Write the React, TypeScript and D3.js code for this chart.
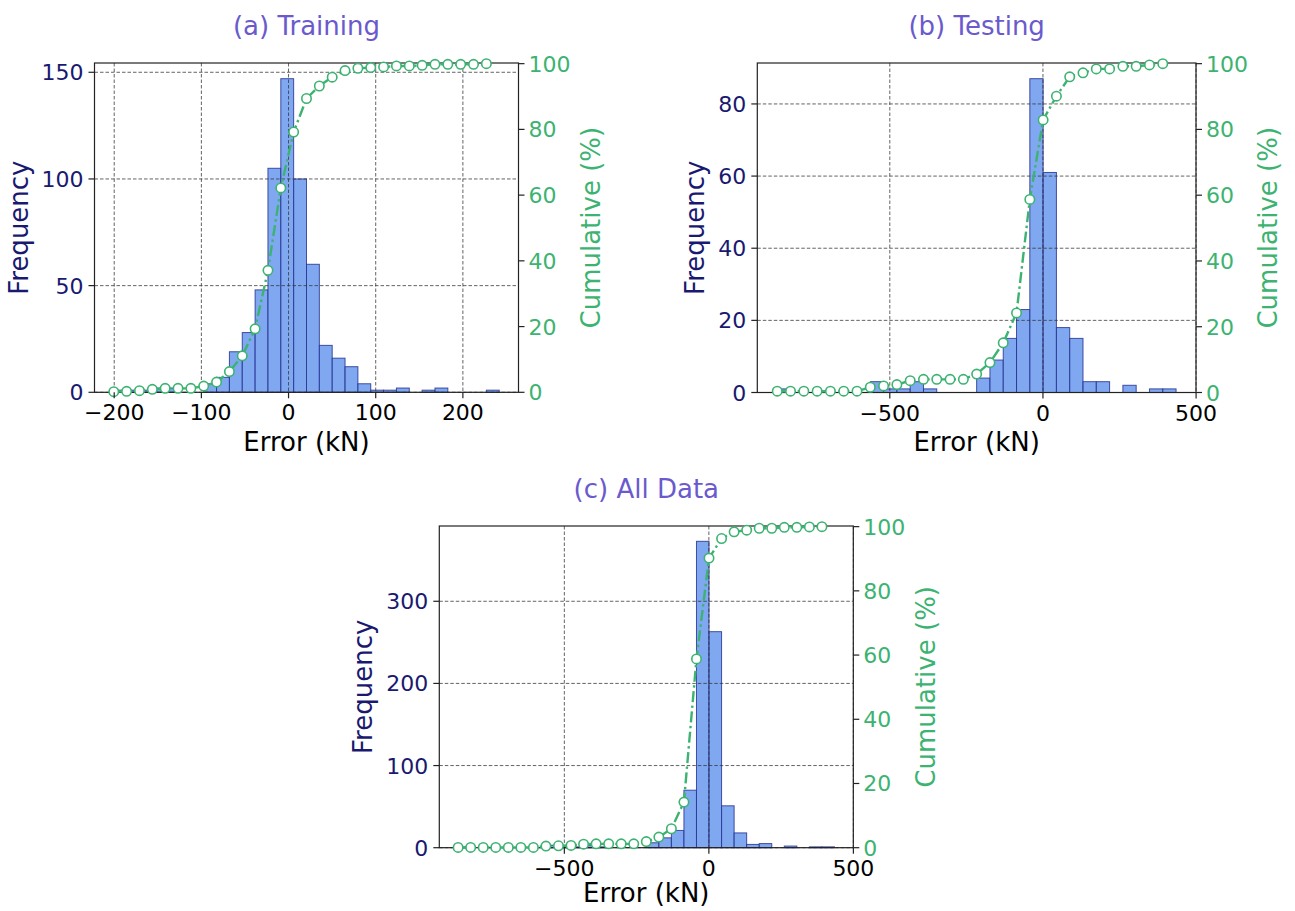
import React from "react";
import * as d3 from "d3";

// ---------- data ----------
const trainCounts = [1, 1, 1, 2, 2, 0, 0, 4, 7, 19, 28, 48, 105, 147, 100, 60, 22, 16, 12, 4, 1, 1, 2, 0, 1, 2, 0, 0, 0, 1];
const trainCumulative = [0.2, 0.3, 0.5, 0.9, 1.2, 1.2, 1.2, 1.9, 3.1, 6.3, 11.1, 19.3, 37.1, 62.2, 79.2, 89.4, 93.2, 95.9, 97.9, 98.6, 98.8, 99.0, 99.3, 99.3, 99.5, 99.8, 99.8, 99.8, 99.8, 100];
const trainRange = [-200.5, 241.7];

const testCounts = [1, 0, 0, 0, 0, 0, 0, 3, 1, 1, 3, 1, 0, 0, 0, 4, 9, 15, 23, 87, 61, 18, 15, 3, 3, 0, 2, 0, 1, 1];
const testCumulative = [0.4, 0.4, 0.4, 0.4, 0.4, 0.4, 0.4, 1.6, 2.0, 2.4, 3.6, 4.0, 4.0, 4.0, 4.0, 5.6, 9.1, 15.1, 24.2, 58.7, 82.9, 90.1, 96.0, 97.2, 98.4, 98.4, 99.2, 99.2, 99.6, 100];
const testRange = [-867.5, 434.6];

const allCounts = [1, 0, 0, 0, 0, 0, 0, 3, 1, 1, 3, 1, 0, 0, 0, 6, 12, 21, 70, 373, 263, 51, 18, 4, 5, 0, 2, 0, 1, 1];
const allCumulative = [0.1, 0.1, 0.1, 0.1, 0.1, 0.1, 0.1, 0.5, 0.6, 0.7, 1.1, 1.2, 1.2, 1.2, 1.2, 1.9, 3.3, 5.9, 14.2, 58.8, 90.2, 96.3, 98.4, 98.9, 99.5, 99.5, 99.8, 99.8, 99.9, 100];
const allRange = [-867.5, 434.6];

const trainXTicks = [-200, -100, 0, 100, 200];
const trainYTicks = [0, 50, 100, 150];
const testXTicks = [-500, 0, 500];
const testYTicks = [0, 20, 40, 60, 80];
const allXTicks = [-500, 0, 500];
const allYTicks = [0, 100, 200, 300];
const cumTicks = [0, 20, 40, 60, 80, 100];

const titles = ["(a) Training", "(b) Testing", "(c) All Data"];
const xLabel = "Error (kN)";
const yLabel = "Frequency";
const y2Label = "Cumulative (%)";

// ---------- style ----------
const FONT = "DejaVu Sans, Verdana, sans-serif";
const TITLE_C = "#6A5ACD";
const LEFT_C = "#191970";
const RIGHT_C = "#3CB371";
const BAR_FILL = "#6495ED";
const BAR_EDGE = "#283593";
const TICK_FS = 22;
const LABEL_FS = 26;

type Box = { left: number; right: number; top: number; bottom: number };

const fmt = (v: number) => (v < 0 ? "\u2212" + Math.abs(v) : String(v));

function Panel(props: {
  title: string;
  counts: number[];
  cumulative: number[];
  range: number[];
  xTicks: number[];
  yTicks: number[];
  box: Box;
  xLabelDy: number;
}) {
  const { title, counts, cumulative, range, xTicks, yTicks, box, xLabelDy } = props;
  const n = counts.length;
  const span = range[1] - range[0];
  const edges = d3.range(n + 1).map((i) => range[0] + (span * i) / n);
  const x = d3
    .scaleLinear()
    .domain([range[0] - 0.05 * span, range[1] + 0.05 * span])
    .range([box.left, box.right]);
  const y = d3
    .scaleLinear()
    .domain([0, (d3.max(counts) as number) * 1.05])
    .range([box.bottom, box.top]);
  const y2 = d3.scaleLinear().domain([0, 100.2]).range([box.bottom, box.top]);

  const line = d3
    .line<number>()
    .x((_, i) => x(edges[i]))
    .y((d) => y2(d));

  const maxLabelW = d3.max(yTicks.map((t) => fmt(t).length)) as number;
  const yLabelX = box.left - 12.5 - maxLabelW * 0.636 * TICK_FS - 12.5;
  const midY = (box.top + box.bottom) / 2;
  const midX = (box.left + box.right) / 2;
  const y2LabelX = box.right + 11 + 3 * 0.636 * TICK_FS + 28.5;

  const grid = {
    stroke: "#333",
    strokeOpacity: 0.85,
    strokeWidth: 0.9,
    strokeDasharray: "3.5 2",
  };

  return (
    <g>
      {/* bars */}
      {counts.map((c, i) => (
        <rect
          key={"b" + i}
          x={x(edges[i])}
          y={y(c)}
          width={x(edges[i + 1]) - x(edges[i])}
          height={y(0) - y(c)}
          fill={BAR_FILL}
          fillOpacity={0.82}
          stroke={BAR_EDGE}
          strokeOpacity={0.85}
          strokeWidth={1}
        />
      ))}
      {/* grid */}
      {xTicks.map((t) => (
        <line key={"gx" + t} x1={x(t)} x2={x(t)} y1={box.top} y2={box.bottom} {...grid} />
      ))}
      {yTicks.map((t) => (
        <line key={"gy" + t} x1={box.left} x2={box.right} y1={y(t)} y2={y(t)} {...grid} />
      ))}
      {/* spines */}
      <rect
        x={box.left}
        y={box.top}
        width={box.right - box.left}
        height={box.bottom - box.top}
        fill="none"
        stroke="#222"
        strokeWidth={1.2}
      />
      {/* cumulative */}
      <path
        d={line(cumulative) || ""}
        fill="none"
        stroke={RIGHT_C}
        strokeWidth={2.4}
        strokeDasharray="11 3.5 2.4 3.5"
      />
      {cumulative.map((v, i) => (
        <circle
          key={"c" + i}
          cx={x(edges[i])}
          cy={y2(v)}
          r={4.7}
          fill="#fff"
          stroke={RIGHT_C}
          strokeWidth={1.6}
        />
      ))}
      {/* x ticks */}
      {xTicks.map((t) => (
        <g key={"xt" + t}>
          <line x1={x(t)} x2={x(t)} y1={box.bottom} y2={box.bottom + 6} stroke="#222" strokeWidth={1.2} />
          <text x={x(t)} y={box.bottom + 28} textAnchor="middle" fontSize={TICK_FS} fill="#000" fontFamily={FONT}>
            {fmt(t)}
          </text>
        </g>
      ))}
      {/* left ticks */}
      {yTicks.map((t) => (
        <g key={"yt" + t}>
          <line x1={box.left - 6} x2={box.left} y1={y(t)} y2={y(t)} stroke="#222" strokeWidth={1.2} />
          <text x={box.left - 11} y={y(t) + 8} textAnchor="end" fontSize={TICK_FS} fill={LEFT_C} fontFamily={FONT}>
            {fmt(t)}
          </text>
        </g>
      ))}
      {/* right ticks */}
      {cumTicks.map((t) => (
        <g key={"rt" + t}>
          <line x1={box.right} x2={box.right + 6} y1={y2(t)} y2={y2(t)} stroke="#222" strokeWidth={1.2} />
          <text x={box.right + 10} y={y2(t) + 8} textAnchor="start" fontSize={TICK_FS} fill={RIGHT_C} fontFamily={FONT}>
            {fmt(t)}
          </text>
        </g>
      ))}
      {/* labels */}
      <text x={midX} y={box.bottom + xLabelDy} textAnchor="middle" fontSize={LABEL_FS} fill="#000" fontFamily={FONT}>
        {xLabel}
      </text>
      <text
        transform={`translate(${yLabelX},${midY}) rotate(-90)`}
        textAnchor="middle"
        fontSize={LABEL_FS}
        fill={LEFT_C}
        fontFamily={FONT}
      >
        {yLabel}
      </text>
      <text
        transform={`translate(${y2LabelX},${midY}) rotate(-90)`}
        textAnchor="middle"
        fontSize={LABEL_FS}
        fill={RIGHT_C}
        fontFamily={FONT}
      >
        {y2Label}
      </text>
      <text x={midX} y={box.top - 28} textAnchor="middle" fontSize={LABEL_FS} fill={TITLE_C} fontFamily={FONT}>
        {title}
      </text>
    </g>
  );
}

export default function App() {
  const boxA: Box = { left: 94.5, right: 518.5, top: 63, bottom: 392.3 };
  const boxB: Box = { left: 757.3, right: 1196, top: 63, bottom: 392.5 };
  const boxC: Box = { left: 439.3, right: 853.3, top: 526, bottom: 847.7 };
  return (
    <svg width={1295} height={911} style={{ position: "absolute", left: 0, top: 0, background: "#fff" }}>
      <rect width={1295} height={911} fill="#fff" />
      <Panel
        title={titles[0]}
        counts={trainCounts}
        cumulative={trainCumulative}
        range={trainRange}
        xTicks={trainXTicks}
        yTicks={trainYTicks}
        box={boxA}
        xLabelDy={58.5}
      />
      <Panel
        title={titles[1]}
        counts={testCounts}
        cumulative={testCumulative}
        range={testRange}
        xTicks={testXTicks}
        yTicks={testYTicks}
        box={boxB}
        xLabelDy={58.5}
      />
      <Panel
        title={titles[2]}
        counts={allCounts}
        cumulative={allCumulative}
        range={allRange}
        xTicks={allXTicks}
        yTicks={allYTicks}
        box={boxC}
        xLabelDy={54}
      />
    </svg>
  );
}
